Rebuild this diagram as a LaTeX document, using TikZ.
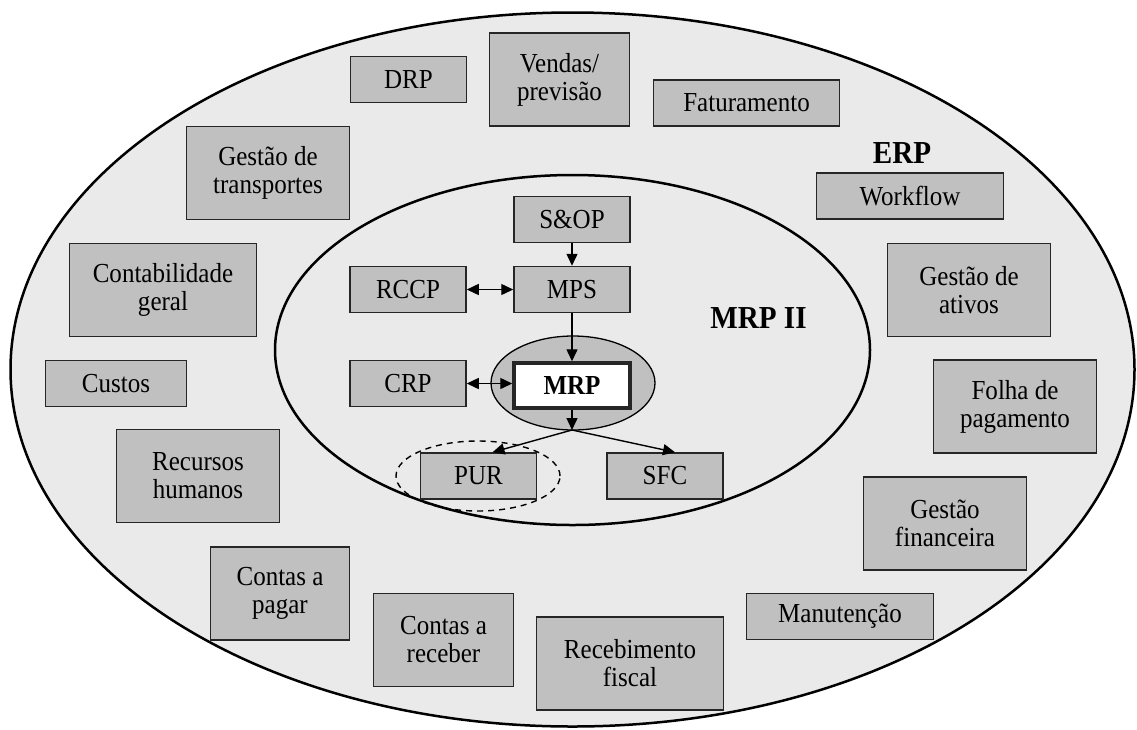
\documentclass[tikz,border=0pt]{standalone}
\usepackage{fontspec}
\setmainfont{Liberation Serif}[FakeStretch=0.91]
\usetikzlibrary{arrows.meta}
\definecolor{fundo}{HTML}{EAEAEA}
\definecolor{caixa}{HTML}{C0C0C0}

\begin{document}
\begin{tikzpicture}[x=1pt,y=-1pt,>={Triangle[length=12pt,width=11pt]},
  modulo/.style={rectangle,fill=caixa,draw=black!85,line width=1.5pt,inner sep=0pt,
    minimum height=46pt,font=\fontsize{27.5}{28}\selectfont,align=center},
  duplo/.style={modulo,minimum height=93pt},
  rotulo/.style={font=\fontsize{32}{34}\selectfont\bfseries}]

  \useasboundingbox (0,0) rectangle (1137,729);

  \draw[fill=fundo,line width=2.5pt] (572.5,369.5) ellipse [x radius=562pt,y radius=357pt];
  \draw[fill=fundo,line width=2.5pt] (572.5,350) ellipse [x radius=297.5pt,y radius=175pt];
  \draw[fill=caixa,line width=1.3pt] (573,383) ellipse [x radius=82pt,y radius=47pt];

  \node[modulo,minimum width=116pt] (drp) at (408.5,79.5) {DRP};
  \node[duplo,minimum width=140pt] (vendas) at (559.5,79.5) {Vendas/\\previsão};
  \node[modulo,minimum width=186pt] (faturamento) at (746.5,103) {Faturamento};
  \node[duplo,minimum width=163pt] (transportes) at (268,173) {Gestão de\\transportes};
  \node[rotulo] (erp) at (902,153) {ERP};
  \node[modulo,minimum width=187pt] (workflow) at (910,196) {Workflow};
  \node[duplo,minimum width=187pt] (contabilidade) at (163,290) {Contabilidade\\geral};
  \node[duplo,minimum width=163pt] (ativos) at (969,290) {Gestão de\\ativos};
  \node[modulo,minimum width=116pt] (sop) at (572,219.5) {S\&OP};
  \node[modulo,minimum width=116pt] (rccp) at (408,289.5) {RCCP};
  \node[modulo,minimum width=116pt] (mps) at (572,289.5) {MPS};
  \node[rotulo] (mrpii) at (758.5,318) {MRP II};
  \node[modulo,minimum width=141pt] (custos) at (116,383.5) {Custos};
  \node[modulo,minimum width=116pt] (crp) at (408,383.5) {CRP};
  \node[modulo,fill=white,line width=3.5pt,minimum width=116pt,minimum height=45pt,
    font=\fontsize{27.5}{28}\selectfont\bfseries] (mrp) at (572,385.5) {MRP};
  \node[duplo,minimum width=163pt] (folha) at (1015,406.5) {Folha de\\pagamento};
  \node[duplo,minimum width=163pt] (recursos) at (198,476) {Recursos\\humanos};
  \node[modulo,minimum width=116pt] (pur) at (478.5,476) {PUR};
  \node[modulo,minimum width=116pt] (sfc) at (665,476) {SFC};
  \node[duplo,minimum width=163pt] (financeira) at (945,523.5) {Gestão\\financeira};
  \node[duplo,minimum width=139pt] (pagar) at (280,593.5) {Contas a\\pagar};
  \node[duplo,minimum width=140pt] (receber) at (443.5,640) {Contas a\\receber};
  \node[modulo,minimum width=187pt] (manutencao) at (840,616.5) {Manutenção};
  \node[duplo,minimum width=187pt] (recebimento) at (630,663.5) {Recebimento\\fiscal};

  \draw[line width=1.4pt,dash pattern=on 6pt off 5pt] (478,476) ellipse [x radius=82pt,y radius=35pt];

  \coordinate (ramo) at (572,430);
  \path[->,line width=1.4pt]
    (sop) edge (mps)
    (mps) edge (mps |- mrp.north)
    (mrp) edge (ramo)
    (ramo) edge ([xshift=14pt]pur.north)
    (ramo) edge ([xshift=10pt]sfc.north);
  \path[<->,line width=1.4pt]
    (rccp) edge (mps)
    (crp.east) edge (crp.east -| mrp.west);
\end{tikzpicture}
\end{document}
